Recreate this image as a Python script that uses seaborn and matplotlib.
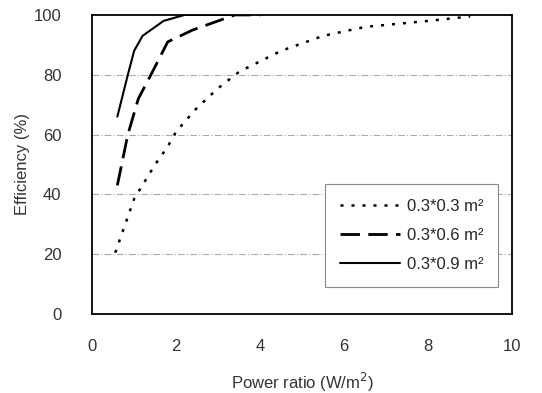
import matplotlib
matplotlib.use("Agg")
import matplotlib.pyplot as plt
import seaborn as sns
import pandas as pd

# Data
x_03 = [0.55, 1.0, 1.5, 1.8, 2.0, 2.5, 3.0, 3.5, 4.5, 5.5, 6.5, 8.0, 9.0]
y_03 = [20.5, 38.5, 50, 56, 61, 69, 75.5, 81, 88, 93, 96, 98, 99.5]

x_06 = [0.6, 0.85, 1.1, 1.4, 1.8, 2.4, 3.0, 3.4, 4.0]
y_06 = [43, 60, 72, 80, 91, 95, 98, 100, 100]

x_09 = [0.6, 0.85, 1.0, 1.2, 1.7, 2.2, 3.5]
y_09 = [66, 80, 88, 93, 98, 100, 100]

labels = ["0.3*0.3 m²", "0.3*0.6 m²", "0.3*0.9 m²"]
xticks = [0, 2, 4, 6, 8, 10]
yticks = [0, 20, 40, 60, 80, 100]

df = pd.concat([
    pd.DataFrame({"x": x_03, "y": y_03, "series": labels[0]}),
    pd.DataFrame({"x": x_06, "y": y_06, "series": labels[1]}),
    pd.DataFrame({"x": x_09, "y": y_09, "series": labels[2]}),
])

sns.set_style("white")
plt.rcParams["font.family"] = ["Liberation Sans", "DejaVu Sans"]

fig = plt.figure(figsize=(5.42, 3.93), dpi=100)
ax = fig.add_axes([0.170, 0.201, 0.775, 0.761])

styles = {labels[0]: dict(ls=(0, (1.2, 3.2)), lw=1.8),
          labels[1]: dict(ls=(0, (7, 3)), lw=2.0),
          labels[2]: dict(ls="-", lw=1.5)}

for lab in labels:
    sub = df[df["series"] == lab]
    sns.lineplot(data=sub, x="x", y="y", ax=ax, color="black",
                 linestyle=styles[lab]["ls"], linewidth=styles[lab]["lw"],
                 label=lab, estimator=None, sort=False)

ax.set_xlim(0, 10)
ax.set_ylim(0, 100)
ax.set_xticks(xticks)
ax.set_yticks(yticks)
ax.tick_params(axis="both", length=0, labelsize=12, colors="#333333")
ax.tick_params(axis="x", pad=18)
ax.tick_params(axis="y", pad=22)

for yv in [20, 40, 60, 80]:
    ax.axhline(yv, color="#aaaaaa", lw=0.8, ls=(0, (6, 2, 1, 2)), zorder=0)

for s in ax.spines.values():
    s.set_color("black")
    s.set_linewidth(1.3)

ax.set_xlabel("Power ratio (W/m$^2$)", fontsize=12, labelpad=12, color="#333333")
ax.set_ylabel("Efficiency (%)", fontsize=12, labelpad=3, color="#333333")

leg = ax.legend(loc="lower right", bbox_to_anchor=(0.967, 0.09), fontsize=12,
                frameon=True, fancybox=False, handlelength=3.6,
                labelspacing=0.85, borderpad=0.9, handletextpad=0.4,
                borderaxespad=0)
leg.get_frame().set_edgecolor("#888888")
leg.get_frame().set_linewidth(0.8)
leg.get_frame().set_alpha(1)

fig.savefig("out.png", dpi=100)
